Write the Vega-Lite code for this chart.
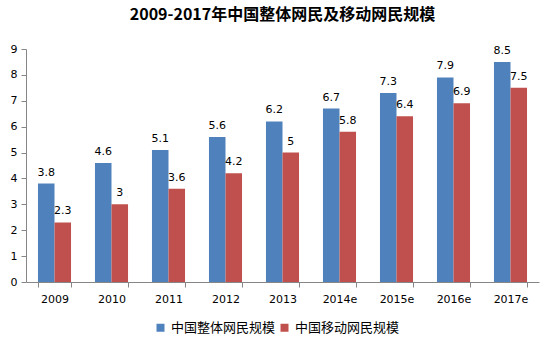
{
  "$schema": "https://vega.github.io/schema/vega-lite/v6.json",
  "width": 513,
  "height": 233,
  "autosize": {"type": "none"},
  "padding": {"left": 26, "top": 49, "right": 17, "bottom": 70},
  "background": "white",
  "title": {
    "text": "2009-2017年中国整体网民及移动网民规模",
    "font": "Noto Sans CJK SC",
    "fontSize": 16,
    "fontWeight": "bold",
    "color": "#000000",
    "anchor": "middle",
    "offset": 20
  },
  "config": {
    "view": {"stroke": null},
    "font": "DejaVu Sans"
  },
  "data": {
    "values": [
      {"year": "2009", "series": "中国整体网民规模", "value": 3.8},
      {"year": "2009", "series": "中国移动网民规模", "value": 2.3},
      {"year": "2010", "series": "中国整体网民规模", "value": 4.6},
      {"year": "2010", "series": "中国移动网民规模", "value": 3},
      {"year": "2011", "series": "中国整体网民规模", "value": 5.1},
      {"year": "2011", "series": "中国移动网民规模", "value": 3.6},
      {"year": "2012", "series": "中国整体网民规模", "value": 5.6},
      {"year": "2012", "series": "中国移动网民规模", "value": 4.2},
      {"year": "2013", "series": "中国整体网民规模", "value": 6.2},
      {"year": "2013", "series": "中国移动网民规模", "value": 5},
      {"year": "2014e", "series": "中国整体网民规模", "value": 6.7},
      {"year": "2014e", "series": "中国移动网民规模", "value": 5.8},
      {"year": "2015e", "series": "中国整体网民规模", "value": 7.3},
      {"year": "2015e", "series": "中国移动网民规模", "value": 6.4},
      {"year": "2016e", "series": "中国整体网民规模", "value": 7.9},
      {"year": "2016e", "series": "中国移动网民规模", "value": 6.9},
      {"year": "2017e", "series": "中国整体网民规模", "value": 8.5},
      {"year": "2017e", "series": "中国移动网民规模", "value": 7.5}
    ]
  },
  "encoding": {
    "x": {
      "field": "year", "type": "nominal", "sort": null,
      "scale": {"paddingInner": 0.42, "paddingOuter": 0.21},
      "axis": {
        "title": null, "labelAngle": 0, "tickBand": "extent",
        "domainColor": "#868686", "tickColor": "#868686", "tickSize": 5,
        "labelFontSize": 11, "labelColor": "#000000", "labelPadding": 6,
        "labelFont": "DejaVu Sans"
      }
    },
    "xOffset": {"field": "series", "type": "nominal", "sort": ["中国整体网民规模", "中国移动网民规模"], "scale": {"paddingInner": 0, "paddingOuter": 0}},
    "y": {
      "field": "value", "type": "quantitative",
      "scale": {"domain": [0, 9], "nice": false},
      "axis": {
        "title": null, "values": [0,1,2,3,4,5,6,7,8,9], "grid": false, "labelOverlap": false,
        "domainColor": "#868686", "tickColor": "#868686", "tickSize": 5,
        "labelFontSize": 11, "labelColor": "#000000", "labelPadding": 4,
        "labelFont": "DejaVu Sans"
      }
    }
  },
  "layer": [
    {
      "mark": {"type": "bar"},
      "encoding": {
        "color": {
          "field": "series", "type": "nominal",
          "sort": ["中国整体网民规模", "中国移动网民规模"],
          "scale": {"domain": ["中国整体网民规模", "中国移动网民规模"], "range": ["#4F81BD", "#C0504D"]},
          "legend": {
            "orient": "none", "legendX": 128, "legendY": 272, "direction": "horizontal", "title": null,
            "symbolType": "square", "symbolSize": 64, "symbolStrokeWidth": 0,
            "labelFont": "Noto Sans CJK SC", "labelFontSize": 13, "labelColor": "#000000",
            "columnPadding": 2
          }
        }
      }
    },
    {
      "mark": {"type": "text", "dy": -11, "fontSize": 11, "color": "#000000", "font": "DejaVu Sans"},
      "encoding": {
        "text": {"field": "value", "type": "quantitative"}
      }
    }
  ]
}
